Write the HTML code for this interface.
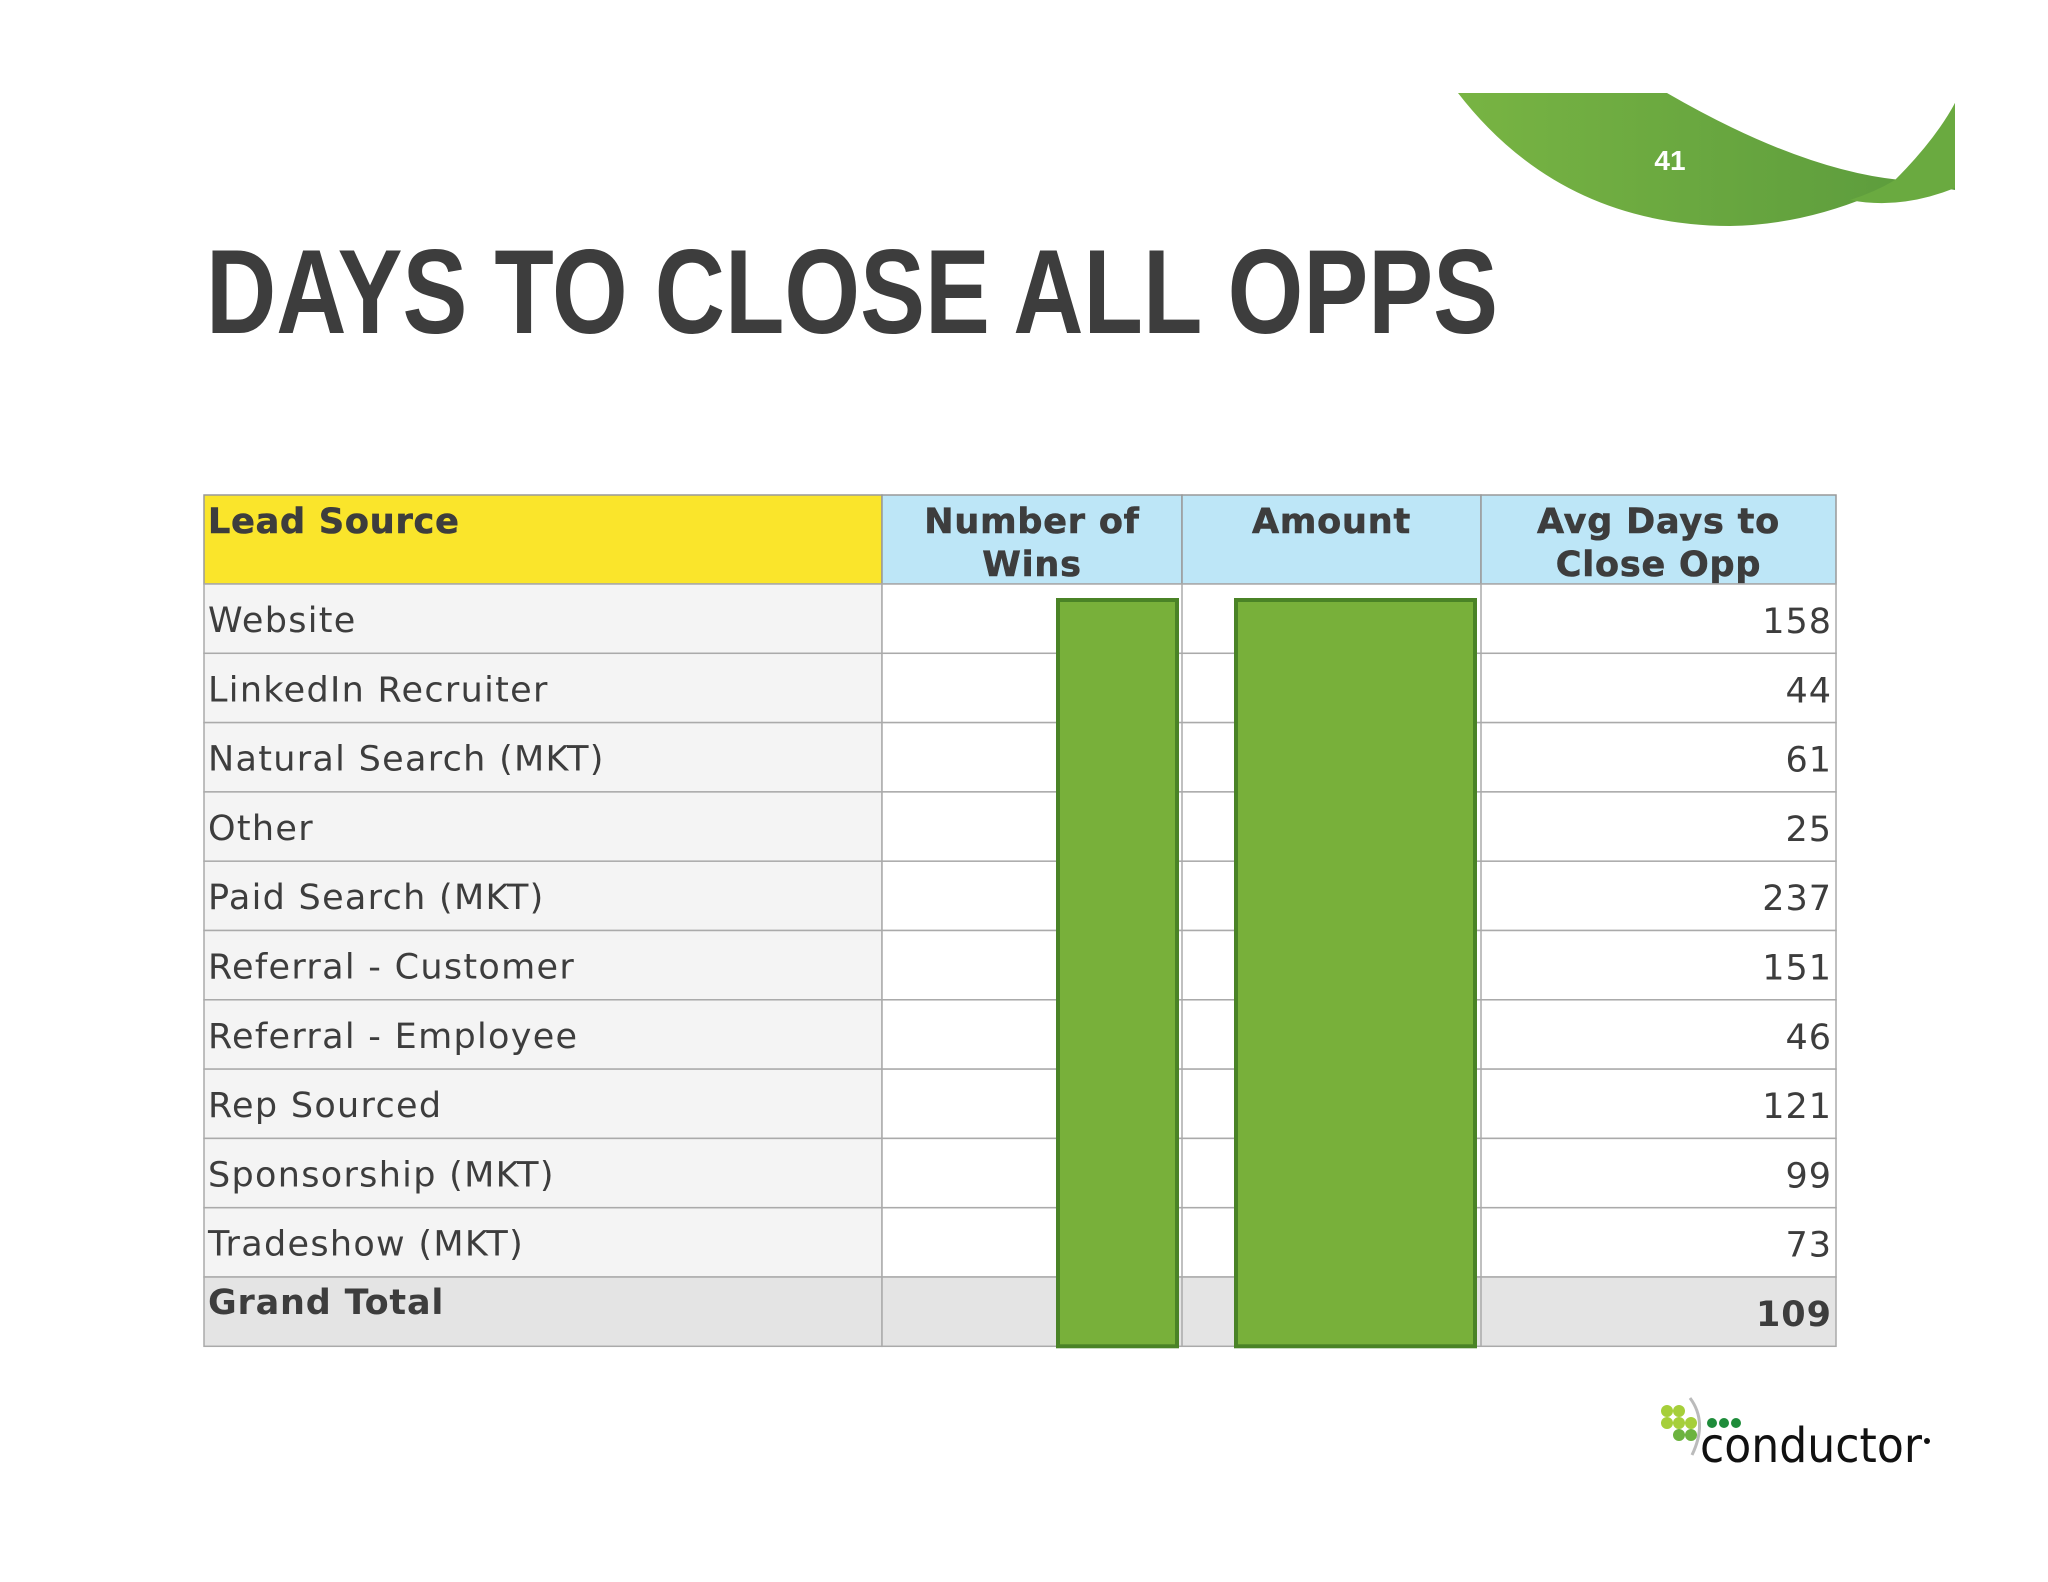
<!DOCTYPE html>
<html><head><meta charset="utf-8"><style>
html,body{margin:0;padding:0;background:#fff;}
svg{display:block;}
</style></head><body>
<svg id="s" width="2048" height="1582" viewBox="0 0 2048 1582" xmlns="http://www.w3.org/2000/svg">
<defs>
<linearGradient id="gg" x1="0" x2="1" y1="0" y2="0"><stop offset="0" stop-color="#78b443"/><stop offset="1" stop-color="#5a9a3c"/></linearGradient>
</defs>
<g>
<path d="M1458,93 L1667,93 Q1800,170 1900,180 L1955,190 L1955,103 Q1920,180 1870,196 Q1800,225 1730,226 Q1560,225 1458,93 Z" fill="url(#gg)"/>
<path d="M1895,180 Q1935,140 1955,103 L1955,188 Q1900,210 1850,200 Q1875,192 1895,180 Z" fill="#6aaa40"/>
</g>
<text x="1670" y="170" font-family="Liberation Sans Narrow, Liberation Sans, sans-serif" font-weight="bold" font-size="28" fill="#fff" text-anchor="middle">41</text>
<text x="206" y="333" font-family="Liberation Sans Narrow, Liberation Sans, sans-serif" font-weight="bold" font-size="120" fill="#3d3d3d" textLength="1292" lengthAdjust="spacingAndGlyphs">DAYS TO CLOSE ALL OPPS</text>
<g id="tbl"></g>
<g>
<g fill="#a6cf3a"><circle cx="1667" cy="1411" r="6"/><circle cx="1679" cy="1411" r="6"/><circle cx="1667" cy="1423" r="6"/><circle cx="1679" cy="1423" r="6"/><circle cx="1691" cy="1423" r="6"/></g>
<g fill="#6cb33f"><circle cx="1679" cy="1435" r="6"/><circle cx="1691" cy="1435" r="6"/></g>
<path d="M1690,1398 Q1708,1422 1692,1455" stroke="#bbb" stroke-width="3" fill="none"/>
<g fill="#1e8c3a"><circle cx="1712" cy="1423" r="5"/><circle cx="1724" cy="1423" r="5"/><circle cx="1736" cy="1423" r="5"/></g>
<text x="1700" y="1462" font-family="DejaVu Sans, Liberation Sans, sans-serif" font-size="48" fill="#111" textLength="222" lengthAdjust="spacingAndGlyphs">conductor</text>
<circle cx="1927" cy="1441" r="3" fill="#111"/>
</g>
</svg>
<script>
const sources = ["Website","LinkedIn Recruiter","Natural Search (MKT)","Other","Paid Search (MKT)","Referral - Customer","Referral - Employee","Rep Sourced","Sponsorship (MKT)","Tradeshow (MKT)"];
const avgDays = [158,44,61,25,237,151,46,121,99,73];
const grandTotal = 109;
const headers = ["Lead Source","Number of|Wins","Amount","Avg Days to|Close Opp"];
const NS="http://www.w3.org/2000/svg";
const g=document.getElementById('tbl');
const cols=[204,882,1182,1481,1836];
const top0=495, hdrB=584, rowH=69.3;
const F='DejaVu Sans, Verdana, sans-serif';
function el(t,a,p){const e=document.createElementNS(NS,t);for(const k in a)e.setAttribute(k,a[k]);(p||g).appendChild(e);return e;}
el('rect',{x:cols[0],y:top0,width:cols[1]-cols[0],height:hdrB-top0,fill:'#fae52b',stroke:'#999','stroke-width':1.5});
for(let c=1;c<4;c++)el('rect',{x:cols[c],y:top0,width:cols[c+1]-cols[c],height:hdrB-top0,fill:'#bde6f7',stroke:'#999','stroke-width':1.5});
headers.forEach((h,i)=>{
  const lines=h.split('|');
  lines.forEach((ln,j)=>{
    const t=el('text',{x:i==0?cols[0]+4:(cols[i]+cols[i+1])/2,y:top0+38+j*43,'font-family':F,'font-weight':'bold','font-size':35,'letter-spacing':0.8,fill:'#3d3d3d','text-anchor':i==0?'start':'middle',stroke:'#3d3d3d','stroke-width':0.6});
    t.textContent=ln;
    
    
  });
});
function row(idx,label,val,total){
  const y=hdrB+idx*rowH;
  el('rect',{x:cols[0],y:y,width:cols[1]-cols[0],height:rowH,fill:total?'#e4e4e4':'#f4f4f4',stroke:'#aaa','stroke-width':1.5});
  el('rect',{x:cols[1],y:y,width:cols[4]-cols[1],height:rowH,fill:total?'#e4e4e4':'#fff',stroke:'#aaa','stroke-width':1.5});
  for(let c=2;c<4;c++)el('line',{x1:cols[c],x2:cols[c],y1:y,y2:y+rowH,stroke:'#aaa','stroke-width':1.5});
  const t=el('text',{x:cols[0]+4,y:total?y+37:y+48,'font-family':F,'font-size':total?35:35,'letter-spacing':total?0.8:1.3,'font-weight':total?'bold':'normal',fill:'#3d3d3d'});
  t.textContent=label;
  
  
  const v=el('text',{x:cols[4]-4,y:y+49,'font-family':F,'font-size':35,'letter-spacing':1,'font-weight':total?'bold':'normal',fill:'#3d3d3d','text-anchor':'end'});
  v.textContent=val;
  
  
}
sources.forEach((s,i)=>row(i,s,avgDays[i],false));
row(sources.length,'Grand Total',grandTotal,true);
const bot=hdrB+(sources.length+1)*rowH;
const b1=el('rect',{x:1058,y:600,width:119,height:bot-600,fill:'#78b03a',stroke:'#4a8326','stroke-width':4});


const b2=el('rect',{x:1236,y:600,width:239,height:bot-600,fill:'#78b03a',stroke:'#4a8326','stroke-width':4});


</script>
</body></html>
